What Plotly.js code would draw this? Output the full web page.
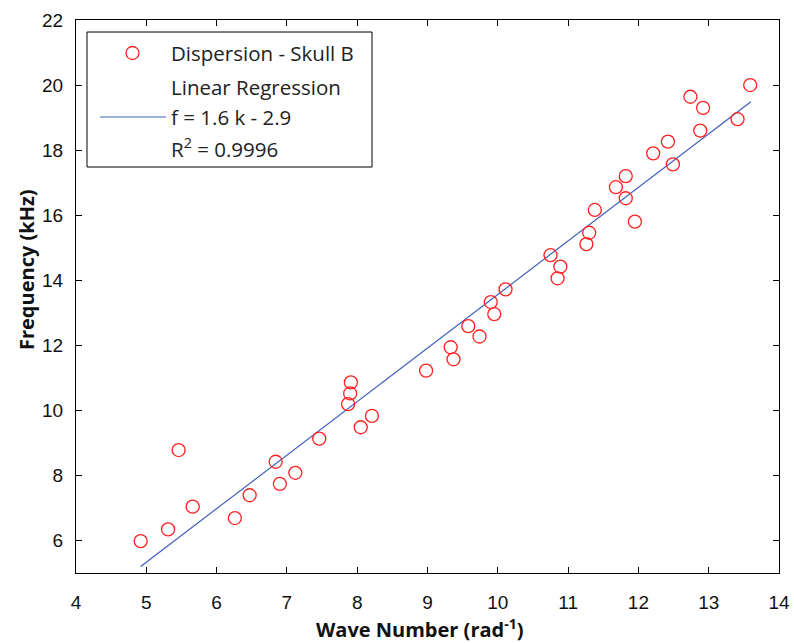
<!DOCTYPE html>
<html>
<head>
<meta charset="utf-8">
<script src="https://cdn.plot.ly/plotly-3.0.1.min.js"></script>
<style>html,body{margin:0;padding:0;background:#fff;}#chart{width:794px;height:643px;}</style>
</head>
<body>
<div id="chart"></div>
<script>
// Measured dispersion points (wave number k, frequency f in kHz)
const waveNumber = [4.92, 5.31, 5.46, 5.66, 6.26, 6.47, 6.84, 6.90, 7.12, 7.46,
  7.91, 7.90, 7.87, 8.05, 8.21, 8.98, 9.33, 9.37, 9.58, 9.74,
  9.90, 9.95, 10.11, 10.75, 10.89, 10.85, 11.30, 11.26, 11.38, 11.95,
  11.68, 11.82, 11.82, 12.21, 12.42, 12.49, 12.74, 12.92, 12.88, 13.41, 13.59];
const frequency = [5.98, 6.34, 8.78, 7.04, 6.69, 7.39, 8.42, 7.74, 8.08, 9.13,
  10.86, 10.52, 10.19, 9.48, 9.83, 11.22, 11.94, 11.57, 12.59, 12.27,
  13.33, 12.96, 13.72, 14.77, 14.42, 14.06, 15.46, 15.11, 16.16, 15.80,
  16.86, 17.20, 16.52, 17.90, 18.26, 17.56, 19.64, 19.30, 18.60, 18.95, 20.00];
// Regression line end points as drawn
const fitK = [4.92, 13.60];
const fitF = [5.20, 19.49];
const xTicks = [4, 5, 6, 7, 8, 9, 10, 11, 12, 13, 14];
const yTicks = [6, 8, 10, 12, 14, 16, 18, 20, 22];
const legendLabels = ["Dispersion - Skull B", "Linear Regression", "f = 1.6 k - 2.9", "R<sup>2</sup> = 0.9996"];
const xTitle = "<b>Wave Number (rad<sup>-1</sup>)</b>";
const yTitle = "<b>Frequency (kHz)</b>";

const W = 794, H = 643;
const M = {l: 76, r: 15, t: 20, b: 70};
const pw = W - M.l - M.r, ph = H - M.t - M.b;
const px = (x) => (x - M.l) / pw;
const py = (y) => (H - M.b - y) / ph;

const lineColor = '#3f5fbf';
const legendFont = {family: 'Open Sans, DejaVu Sans, sans-serif', size: 20.5, color: '#222'};
const titleFont = {family: 'Open Sans, DejaVu Sans, sans-serif', size: 20, color: '#111'};

const traces = [
  {x: fitK, y: fitF, mode: 'lines', type: 'scatter', line: {color: lineColor, width: 1.2}, hoverinfo: 'skip'},
  {x: waveNumber, y: frequency, mode: 'markers', type: 'scatter',
   marker: {symbol: 'circle-open', size: 13, color: '#ff2020', line: {width: 1.3, color: '#ff2020'}}}
];

const rows = [53, 87, 117, 148];
const annotations = legendLabels.map((t, i) => ({
  xref: 'paper', yref: 'paper', x: px(169), y: py(rows[i]), xanchor: 'left', yanchor: 'middle',
  text: t, showarrow: false, font: legendFont
}));
annotations.push({xref: 'paper', yref: 'paper', x: px(420), y: py(628), xanchor: 'center', yanchor: 'middle',
  text: xTitle, showarrow: false, font: titleFont});
annotations.push({xref: 'paper', yref: 'paper', x: px(26), y: py(270), xanchor: 'center', yanchor: 'middle',
  text: yTitle, showarrow: false, textangle: -90, font: titleFont});

const shapes = [
  {type: 'rect', xref: 'paper', yref: 'paper', x0: px(87), x1: px(372), y0: py(32), y1: py(167),
   line: {color: '#000', width: 1}, fillcolor: '#fff', layer: 'above'},
  {type: 'circle', xref: 'paper', yref: 'paper', x0: px(126), x1: px(139), y0: py(59.5), y1: py(46.5),
   line: {color: '#ff2020', width: 1.3}, layer: 'above'},
  {type: 'line', xref: 'paper', yref: 'paper', x0: px(100), x1: px(166), y0: py(117), y1: py(117),
   line: {color: lineColor, width: 1.2}, layer: 'above'}
];

const tickFont = {family: 'Liberation Sans Narrow, Arial Narrow, Liberation Sans, sans-serif', size: 19, color: '#111'};

const layout = {
  width: W, height: H,
  margin: M,
  paper_bgcolor: '#fff', plot_bgcolor: '#fff',
  showlegend: false,
  xaxis: {
    range: [4, 14], tickvals: xTicks, ticktext: xTicks.map(String),
    ticks: 'inside', ticklen: 6, tickcolor: '#000', showline: true, linecolor: '#000', linewidth: 1,
    mirror: 'allticks', showgrid: false, zeroline: false, tickfont: tickFont, ticklabelstandoff: 12
  },
  yaxis: {
    range: [5, 22], tickvals: yTicks, ticktext: yTicks.map(String),
    ticks: 'inside', ticklen: 6, tickcolor: '#000', showline: true, linecolor: '#000', linewidth: 1,
    mirror: 'allticks', showgrid: false, zeroline: false, tickfont: tickFont, ticklabelstandoff: 8
  },
  shapes: shapes,
  annotations: annotations
};

Plotly.newPlot('chart', traces, layout, {displayModeBar: false, staticPlot: true});
</script>
</body>
</html>
